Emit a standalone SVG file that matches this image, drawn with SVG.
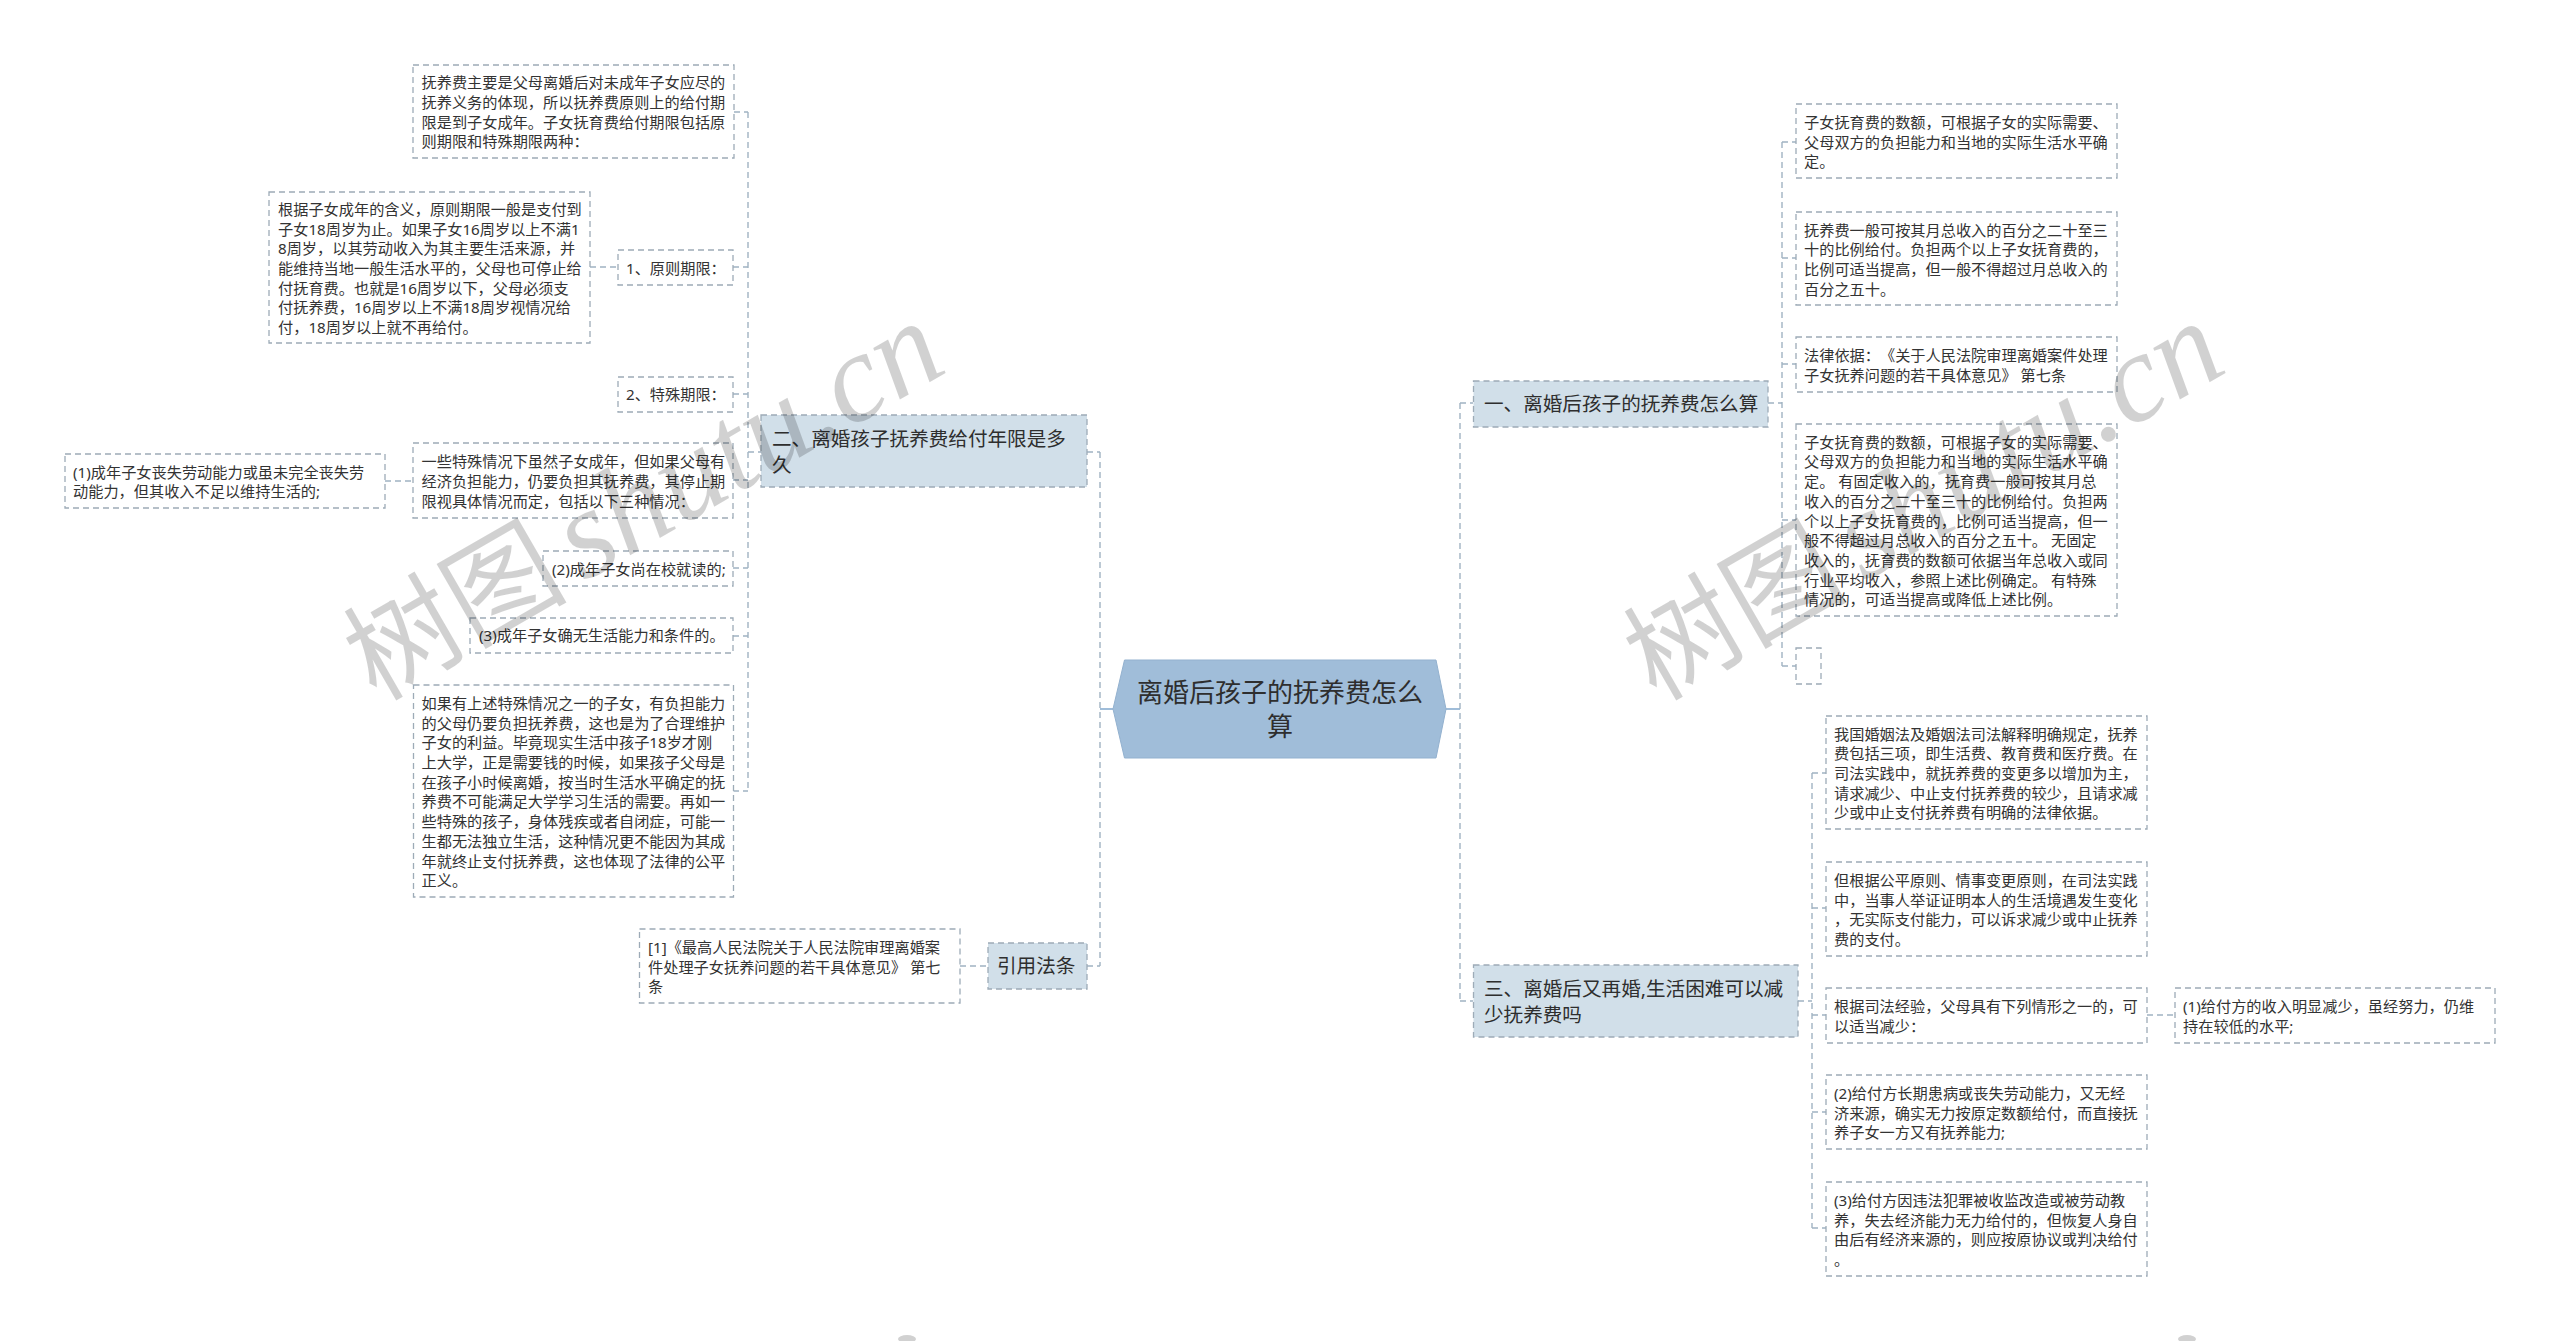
<svg xmlns="http://www.w3.org/2000/svg" width="2560" height="1341" viewBox="0 0 2560 1341" xml:lang="zh-CN">
<style>
text{font-family:"Noto Sans","Noto Sans CJK SC",sans-serif;text-spacing-trim:space-all}
.leaf rect,.empty{fill:#fff;stroke:#9dabb7;stroke-width:1.3;stroke-dasharray:6 4}
.leaf text{font-size:15.2px;fill:#333}
.branch rect{fill:#d1dfe9;stroke:#9dabb7;stroke-width:1.3;stroke-dasharray:6 4}
.branch text{font-size:19.6px;fill:#2e2e2e}
#root polygon{fill:#a0bdd9;stroke:#93b1cf;stroke-width:1}
#root text{font-size:26px;fill:#2e2e2e;text-anchor:middle}
#connectors path{fill:none;stroke:#a0b3c2;stroke-width:1.4;stroke-dasharray:6 4}
#connectors path.solid{stroke:#a0bdd9;stroke-width:2;stroke-dasharray:none}
.wm{fill:#000;fill-opacity:.18}
.cjk{font-family:"Noto Sans CJK SC",sans-serif;font-size:112px}
.lat{font-family:"Liberation Serif",serif;font-style:italic;font-size:126px}
</style>
<rect width="2560" height="1341" fill="#fff"/>
<g id="connectors">
<path class="solid" d="M1113 709H1100M1446 709H1460"/>
<path d="M1100 452V966M1087 452H1100M1087 966H1100"/>
<path d="M1460 403V1001M1460 403H1473M1460 1001H1473"/>
<path d="M748 112V791M734 112H748M733 267H748M733 394H748M733 480H748M733 568H748M733 636H748M733 791H748M748 452H761"/>
<path d="M590 267H618M385 481H413M960 966H988"/>
<path d="M1782 142V666M1768 403H1782M1782 142H1796M1782 258H1796M1782 364H1796M1782 520H1796M1782 666H1796"/>
<path d="M1812 773V1228M1798 1001H1812M1812 773H1826M1812 908H1826M1812 1015H1826M1812 1112H1826M1812 1228H1826M2147 1015H2175"/>
</g>
<g id="root"><polygon points="1113,709 1124.5,660 1436,660 1446,709 1436,758 1124.5,758"/>
<text x="1280" y="701.5">离婚后孩子的抚养费怎么</text><text x="1280" y="735.5">算</text></g>
<g id="n2" class="branch"><rect x="761" y="415" width="326" height="72"/><text x="772" y="446">二、离婚孩子抚养费给付年限是多</text><text x="772" y="472">久</text></g>
<g id="n1" class="branch"><rect x="1473.5" y="381" width="294.5" height="46"/><text x="1484" y="411">一、离婚后孩子的抚养费怎么算</text></g>
<g id="n3" class="branch"><rect x="1473.5" y="965" width="324.5" height="72"/><text x="1484" y="995.5">三、离婚后又再婚,生活困难可以减</text><text x="1484" y="1022">少抚养费吗</text></g>
<g id="n4" class="branch"><rect x="988" y="943" width="99" height="46"/><text x="997" y="973">引用法条</text></g>
<g id="a" class="leaf"><rect x="413" y="65" width="321" height="93"/>
<text x="421.5" y="88">抚养费主要是父母离婚后对未成年子女应尽的</text><text x="421.5" y="107.8">抚养义务的体现&#65292;所以抚养费原则上的给付期</text><text x="421.5" y="127.6">限是到子女成年。子女抚育费给付期限包括原</text><text x="421.5" y="147.4">则期限和特殊期限两种&#65306;</text></g>
<g id="b" class="leaf"><rect x="269" y="192" width="321" height="151"/>
<text x="278" y="214.9">根据子女成年的含义&#65292;原则期限一般是支付到</text><text x="278" y="234.6">子女18周岁为止。如果子女16周岁以上不满1</text><text x="278" y="254.3">8周岁&#65292;以其劳动收入为其主要生活来源&#65292;并</text><text x="278" y="274">能维持当地一般生活水平的&#65292;父母也可停止给</text><text x="278" y="293.7">付抚育费。也就是16周岁以下&#65292;父母必须支</text><text x="278" y="313.4">付抚养费&#65292;16周岁以上不满18周岁视情况给</text><text x="278" y="333.1">付&#65292;18周岁以上就不再给付。</text></g>
<g id="c" class="leaf"><rect x="618" y="250" width="115" height="35"/><text x="626" y="274">1、原则期限&#65306;</text></g>
<g id="d" class="leaf"><rect x="618" y="377" width="115" height="35"/><text x="626" y="400">2、特殊期限&#65306;</text></g>
<g id="e" class="leaf"><rect x="413" y="443" width="320" height="75"/>
<text x="421.5" y="467.3">一些特殊情况下虽然子女成年&#65292;但如果父母有</text><text x="421.5" y="487">经济负担能力&#65292;仍要负担其抚养费&#65292;其停止期</text><text x="421.5" y="506.7">限视具体情况而定&#65292;包括以下三种情况&#65306;</text></g>
<g id="f" class="leaf"><rect x="65" y="454" width="320" height="54"/>
<text x="73" y="477.6">(1)成年子女丧失劳动能力或虽未完全丧失劳</text><text x="73" y="497.3">动能力&#65292;但其收入不足以维持生活的;</text></g>
<g id="g" class="leaf"><rect x="543" y="551" width="190" height="35"/><text x="552" y="575">(2)成年子女尚在校就读的;</text></g>
<g id="h" class="leaf"><rect x="470" y="618" width="263" height="35"/><text x="479" y="641">(3)成年子女确无生活能力和条件的。</text></g>
<g id="i" class="leaf"><rect x="413.5" y="685" width="320" height="212"/>
<text x="421.5" y="708.9">如果有上述特殊情况之一的子女&#65292;有负担能力</text><text x="421.5" y="728.6">的父母仍要负担抚养费&#65292;这也是为了合理维护</text><text x="421.5" y="748.3">子女的利益。毕竟现实生活中孩子18岁才刚</text><text x="421.5" y="768">上大学&#65292;正是需要钱的时候&#65292;如果孩子父母是</text><text x="421.5" y="787.7">在孩子小时候离婚&#65292;按当时生活水平确定的抚</text><text x="421.5" y="807.4">养费不可能满足大学学习生活的需要。再如一</text><text x="421.5" y="827.1">些特殊的孩子&#65292;身体残疾或者自闭症&#65292;可能一</text><text x="421.5" y="846.8">生都无法独立生活&#65292;这种情况更不能因为其成</text><text x="421.5" y="866.5">年就终止支付抚养费&#65292;这也体现了法律的公平</text><text x="421.5" y="886.2">正义。</text></g>
<g id="j" class="leaf"><rect x="639.5" y="929" width="320.5" height="74"/>
<text x="648" y="952.8">[1]《最高人民法院关于人民法院审理离婚案</text><text x="648" y="972.5">件处理子女抚养问题的若干具体意见》 第七</text><text x="648" y="992.2">条</text></g>
<g id="r1" class="leaf"><rect x="1796" y="104" width="321" height="74"/>
<text x="1804" y="127.8">子女抚育费的数额&#65292;可根据子女的实际需要、</text><text x="1804" y="147.5">父母双方的负担能力和当地的实际生活水平确</text><text x="1804" y="167.2">定。</text></g>
<g id="r2" class="leaf"><rect x="1796" y="212" width="321" height="93"/>
<text x="1804" y="235.5">抚养费一般可按其月总收入的百分之二十至三</text><text x="1804" y="255.2">十的比例给付。负担两个以上子女抚育费的&#65292;</text><text x="1804" y="274.9">比例可适当提高&#65292;但一般不得超过月总收入的</text><text x="1804" y="294.6">百分之五十。</text></g>
<g id="r3" class="leaf"><rect x="1796" y="337" width="321" height="55"/>
<text x="1804" y="361.2">法律依据&#65306;《关于人民法院审理离婚案件处理</text><text x="1804" y="380.9">子女抚养问题的若干具体意见》 第七条</text></g>
<g id="r4" class="leaf"><rect x="1796" y="424" width="321" height="192"/>
<text x="1804" y="447.7">子女抚育费的数额&#65292;可根据子女的实际需要、</text><text x="1804" y="467.4">父母双方的负担能力和当地的实际生活水平确</text><text x="1804" y="487.1">定。 有固定收入的&#65292;抚育费一般可按其月总</text><text x="1804" y="506.8">收入的百分之二十至三十的比例给付。负担两</text><text x="1804" y="526.5">个以上子女抚育费的&#65292;比例可适当提高&#65292;但一</text><text x="1804" y="546.2">般不得超过月总收入的百分之五十。 无固定</text><text x="1804" y="565.9">收入的&#65292;抚育费的数额可依据当年总收入或同</text><text x="1804" y="585.6">行业平均收入&#65292;参照上述比例确定。 有特殊</text><text x="1804" y="605.3">情况的&#65292;可适当提高或降低上述比例。</text></g>
<g id="r5"><rect class="empty" x="1796" y="648" width="25" height="36"/></g>
<g id="s1" class="leaf"><rect x="1826" y="716" width="321" height="113"/>
<text x="1834" y="739.6">我国婚姻法及婚姻法司法解释明确规定&#65292;抚养</text><text x="1834" y="759.3">费包括三项&#65292;即生活费、教育费和医疗费。在</text><text x="1834" y="779">司法实践中&#65292;就抚养费的变更多以增加为主&#65292;</text><text x="1834" y="798.7">请求减少、中止支付抚养费的较少&#65292;且请求减</text><text x="1834" y="818.4">少或中止支付抚养费有明确的法律依据。</text></g>
<g id="s2" class="leaf"><rect x="1826" y="862" width="321" height="94"/>
<text x="1834" y="886">但根据公平原则、情事变更原则&#65292;在司法实践</text><text x="1834" y="905.7">中&#65292;当事人举证证明本人的生活境遇发生变化</text><text x="1834" y="925.4">&#65292;无实际支付能力&#65292;可以诉求减少或中止抚养</text><text x="1834" y="945.1">费的支付。</text></g>
<g id="s3" class="leaf"><rect x="1826" y="988" width="321" height="55"/>
<text x="1834" y="1012.2">根据司法经验&#65292;父母具有下列情形之一的&#65292;可</text><text x="1834" y="1031.9">以适当减少&#65306;</text></g>
<g id="s3a" class="leaf"><rect x="2175" y="988" width="320" height="55"/>
<text x="2183" y="1012.2">(1)给付方的收入明显减少&#65292;虽经努力&#65292;仍维</text><text x="2183" y="1031.9">持在较低的水平;</text></g>
<g id="s4" class="leaf"><rect x="1826" y="1075" width="321" height="74"/>
<text x="1834" y="1098.8">(2)给付方长期患病或丧失劳动能力&#65292;又无经</text><text x="1834" y="1118.5">济来源&#65292;确实无力按原定数额给付&#65292;而直接抚</text><text x="1834" y="1138.2">养子女一方又有抚养能力;</text></g>
<g id="s5" class="leaf"><rect x="1826" y="1182" width="321" height="94"/>
<text x="1834" y="1206">(3)给付方因违法犯罪被收监改造或被劳动教</text><text x="1834" y="1225.7">养&#65292;失去经济能力无力给付的&#65292;但恢复人身自</text><text x="1834" y="1245.4">由后有经济来源的&#65292;则应按原协议或判决给付</text><text x="1834" y="1265.1">。</text></g>
<g id="watermark">
<text class="wm" transform="translate(376,702) rotate(-30)"><tspan class="cjk">树图</tspan><tspan class="lat" dx="16">shutu.cn</tspan></text>
<text class="wm" transform="translate(1656,702) rotate(-30)"><tspan class="cjk">树图</tspan><tspan class="lat" dx="16">shutu.cn</tspan></text>
<ellipse class="wm" cx="907" cy="1339" rx="9" ry="4"/>
<ellipse class="wm" cx="2187" cy="1339" rx="9" ry="4"/>
</g>
</svg>
